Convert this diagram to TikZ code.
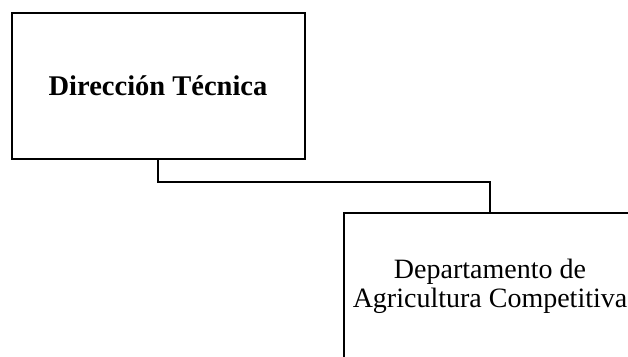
\documentclass[tikz,border=0pt]{standalone}
\usepackage{fontspec}
\setmainfont{Liberation Serif}
\begin{document}
\begin{tikzpicture}[x=1pt,y=-1pt,
  box/.style={draw=black,line width=2pt,fill=white,minimum width=293pt,minimum height=146pt,inner sep=0pt,align=center},
  conn/.style={draw=black,line width=2pt}]
\useasboundingbox (0,0) rectangle (628,356);
\node[box,font=\fontsize{28.5}{30}\selectfont\bfseries] (dt) at (158,86) {Dirección Técnica};
\node[box,font=\fontsize{28}{26}\selectfont] (dac) at (490,286) {Departamento de\\[3pt]Agricultura Competitiva};
\coordinate (m1) at (158,182);
\coordinate (m2) at (490,182);
\draw[conn] (dt.south) -- (m1) -- (m2) -- (dac.north);
\end{tikzpicture}
\end{document}
